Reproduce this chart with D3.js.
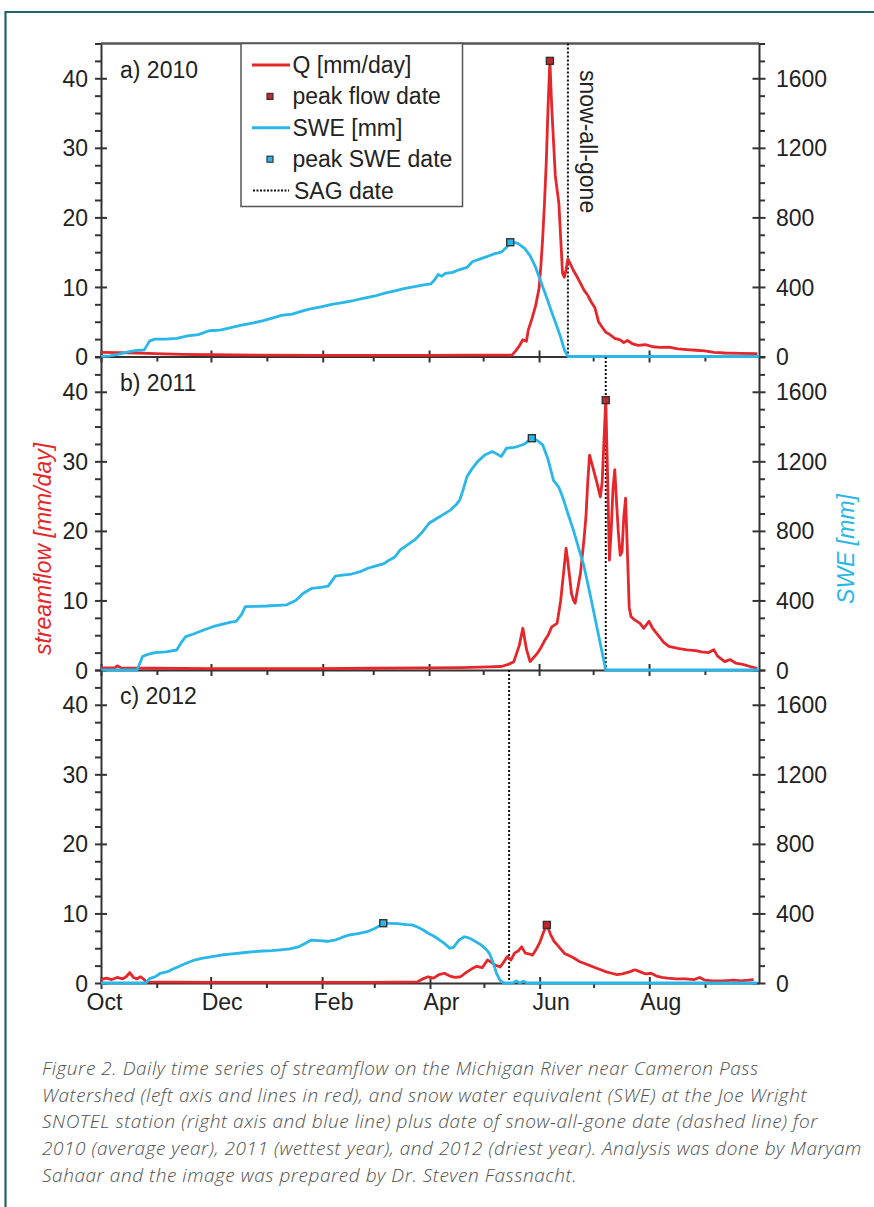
<!DOCTYPE html>
<html>
<head>
<meta charset="utf-8">
<script src="https://cdn.jsdelivr.net/npm/d3@7"></script>
<style>
  html, body { margin: 0; padding: 0; background: #fff; }
  svg { display: block; }
  .tick text { font-family: "Liberation Sans", Arial, sans-serif; font-size: 23px; fill: #222; }
  .lbl { font-family: "Liberation Sans", Arial, sans-serif; font-size: 23px; fill: #222; }
  .caption { font-family: "Open Sans", Lato, sans-serif; font-style: italic; font-weight: 300; font-size: 19px; letter-spacing: 0.55px; fill: #4e4e4e; }
</style>
</head>
<body>
<svg id="chart" width="874" height="1207"></svg>
<script>
// Daily streamflow Q [mm/day] and SWE [mm], as [day of water year (0 = Oct 1), value]
const q2010 = [[0,0.6],[10,0.55],[20,0.5],[30,0.4],[45,0.3],[60,0.25],[90,0.2],[120,0.15],[150,0.15],[180,0.15],[205,0.2],[228,0.2],[230,0.8],[232,1.5],[234,2.4],[236,2.2],[237,3.8],[239,5.4],[241,7.2],[243,9.8],[244,13],[245,17],[246,22],[247,28],[248,36],[249,42.5],[250,36],[251,31],[252,26],[253,24],[254,22],[255,17],[256,12],[257,11.4],[258,12.5],[259,14],[260,13.5],[262,12.4],[264,11.5],[266,10.5],[268,9.5],[270,8.8],[272,7.8],[274,7.0],[276,5.0],[278,4.2],[280,3.5],[282,3.2],[285,2.6],[288,2.4],[290,2.0],[292,2.3],[295,1.8],[298,1.6],[302,1.7],[306,1.4],[310,1.3],[315,1.35],[320,1.1],[325,1.0],[330,0.9],[335,0.8],[340,0.6],[346,0.5],[355,0.45],[364,0.4]];
const swe2010 = [[0,0],[5,4],[10,14],[15,26],[19,34],[24,38],[27,90],[30,100],[36,100],[42,104],[48,118],[54,126],[60,148],[66,152],[72,166],[78,180],[84,192],[90,206],[96,224],[100,236],[106,244],[112,262],[117,276],[122,286],[128,300],[134,310],[140,322],[146,336],[152,348],[158,366],[163,378],[168,390],[174,402],[179,412],[183,418],[185,440],[187,472],[189,462],[191,478],[195,484],[199,500],[203,512],[206,545],[210,560],[214,574],[218,590],[222,600],[225,628],[227,657],[231,652],[235,622],[238,580],[241,515],[244,430],[247,345],[250,255],[253,170],[255,110],[257,40],[259,0],[365,0]];

const q2011 = [[0,0.3],[8,0.35],[9,0.6],[11,0.3],[30,0.25],[60,0.2],[90,0.2],[120,0.2],[150,0.25],[180,0.3],[200,0.35],[215,0.45],[222,0.5],[226,0.8],[229,1.2],[232,3.5],[234,6.0],[236,3.0],[238,1.2],[240,1.8],[242,2.4],[244,3.2],[246,4.2],[248,5.0],[250,6.2],[253,6.7],[255,10],[257,15],[258,17.5],[259,15.5],[261,11],[262,10.1],[263,9.6],[265,12.5],[266,14],[268,19],[269,22],[270,27],[271,30.9],[273,29],[275,27],[277,24.9],[278,27],[279,33],[280,38.8],[281,28],[282,15.8],[283,20],[284,26],[285,28.8],[286,24],[287,19.7],[288,16.5],[289,17],[290,22],[291,24.7],[292,17],[293,9],[294,7.7],[296,7.2],[299,6.7],[301,6.0],[304,7.0],[306,6.0],[309,5.0],[312,4.0],[315,3.4],[320,3.1],[325,2.9],[330,2.8],[333,2.6],[337,2.5],[340,2.9],[342,2.0],[344,1.6],[346,1.2],[349,1.5],[352,1.0],[356,0.8],[360,0.5],[364,0.25]];
const swe2011 = [[0,0],[10,0],[20,0],[22,50],[23,78],[26,90],[30,100],[36,104],[42,115],[44,150],[47,192],[52,210],[57,230],[62,249],[67,262],[72,275],[75,280],[78,320],[80,364],[86,366],[92,368],[98,372],[103,375],[108,400],[112,440],[117,470],[122,475],[126,482],[130,540],[134,545],[139,552],[144,566],[148,585],[153,600],[157,612],[160,633],[163,650],[166,691],[170,720],[174,748],[178,790],[182,844],[186,870],[190,895],[194,921],[197,950],[199,978],[201,1040],[203,1112],[206,1160],[209,1200],[213,1237],[217,1256],[220,1240],[222,1228],[225,1276],[229,1280],[231,1285],[235,1300],[239,1333],[242,1320],[245,1295],[248,1210],[251,1090],[254,1050],[256,997],[259,900],[262,806],[265,700],[268,594],[271,450],[274,300],[277,150],[280,0],[365,0]];

const q2012 = [[0,0.5],[3,0.7],[6,0.5],[9,0.8],[12,0.6],[14,0.9],[16,1.5],[18,0.8],[20,0.6],[22,0.9],[24,0.5],[25,0.15],[60,0.1],[100,0.1],[150,0.1],[176,0.15],[179,0.6],[182,0.9],[185,0.7],[188,1.2],[191,1.4],[194,1.0],[197,0.8],[200,0.9],[203,1.5],[206,2.0],[209,2.4],[212,2.2],[215,3.3],[217,3.0],[219,2.6],[222,2.3],[224,3.0],[226,3.8],[228,3.3],[230,4.3],[232,4.6],[234,5.2],[236,4.3],[238,4.2],[240,4.0],[242,4.8],[244,5.8],[246,7.2],[248,8.35],[250,7.0],[252,6.0],[254,5.4],[256,4.8],[258,4.2],[260,4.0],[263,3.6],[266,3.1],[269,2.8],[272,2.5],[275,2.2],[278,1.9],[281,1.6],[284,1.4],[287,1.2],[290,1.3],[294,1.6],[297,1.9],[300,1.6],[303,1.3],[306,1.4],[309,1.0],[312,0.8],[315,0.7],[320,0.6],[325,0.6],[330,0.5],[333,0.8],[336,0.4],[340,0.3],[346,0.3],[352,0.4],[356,0.3],[360,0.4],[363,0.5]];
const swe2012 = [[0,0],[10,0],[20,0],[25,0],[27,25],[30,35],[33,56],[37,65],[40,80],[43,94],[47,112],[52,132],[56,142],[61,150],[67,161],[73,168],[79,174],[85,180],[90,184],[95,186],[100,191],[105,196],[110,208],[114,230],[117,247],[121,244],[126,240],[130,246],[134,262],[138,276],[143,284],[148,295],[152,312],[155,330],[157,344],[160,343],[165,342],[170,336],[173,334],[176,322],[179,306],[182,286],[185,270],[188,250],[191,228],[194,200],[196,205],[199,245],[202,266],[205,258],[208,240],[211,222],[214,196],[216,171],[218,120],[220,56],[222,15],[224,0],[229,0],[231,12],[233,0],[235,10],[237,0],[365,0]];

// Snow-all-gone (SAG) day of water year per panel
const sagDays = [259, 280, 227];
const panelLabels = ["a) 2010", "b) 2011", "c) 2012"];
const waterYears = [2010, 2011, 2012];
const flowSeries = [q2010, q2011, q2012];
const sweSeries = [swe2010, swe2011, swe2012];

const qMajor = [0, 10, 20, 30, 40];
const sweMajor = [0, 400, 800, 1200, 1600];
const legendItems = ["Q [mm/day]", "peak flow date", "SWE [mm]", "peak SWE date", "SAG date"];

const captionLines = [
  "Figure 2. Daily time series of streamflow on the Michigan River near Cameron Pass",
  "Watershed (left axis and lines in red), and snow water equivalent (SWE) at the Joe Wright",
  "SNOTEL station (right axis and blue line) plus date of snow-all-gone date (dashed line) for",
  "2010 (average year), 2011 (wettest year), and 2012 (driest year). Analysis was done by Maryam",
  "Sahaar and the image was prepared by Dr. Steven Fassnacht."
];

const RED = "#e5262a", BLUE = "#29b6e9", AXIS = "#333";
const left = 101, right = 759;
const panelTops = [43.5, 357, 670], panelH = 313;

const svg = d3.select("#chart");

// page frame
svg.append("path").attr("d", "M5.5,1207 V12 H874")
  .attr("fill", "none").attr("stroke", "#1e6665").attr("stroke-width", 2.2);

panelTops.forEach((top, i) => {
  const wy = waterYears[i];
  const start = new Date(wy - 1, 9, 1), end = new Date(wy, 9, 1);
  const x = d3.scaleTime().domain([start, end]).range([left, right]);
  const yQ = d3.scaleLinear().domain([0, 45]).range([top + panelH, top]);
  const yS = d3.scaleLinear().domain([0, 1800]).range([top + panelH, top]);
  const day = d => d3.timeDay.offset(start, d);
  const g = svg.append("g");

  // minor ticks (outward)
  const qMinor = d3.range(0, 45.01, 2.5).filter(v => v % 10 !== 0);
  const sMinor = d3.range(0, 1800.1, 100).filter(v => v % 400 !== 0);
  const months = d3.timeMonth.range(start, end);
  const xMinor = months.filter((m, k) => k % 2 === 1);
  const xMajor = months.filter((m, k) => k % 2 === 0);

  g.append("g").attr("transform", `translate(${left},0)`)
    .call(d3.axisLeft(yQ).tickValues(qMinor).tickSize(6).tickSizeOuter(0).tickFormat(""))
    .call(a => a.select(".domain").remove());
  g.append("g").attr("transform", `translate(${right},0)`)
    .call(d3.axisRight(yS).tickValues(sMinor).tickSize(6).tickSizeOuter(0).tickFormat(""))
    .call(a => a.select(".domain").remove());
  g.append("g").attr("transform", `translate(0,${top + panelH})`)
    .call(d3.axisBottom(x).tickValues(xMinor).tickSize(5).tickSizeOuter(0).tickFormat(""))
    .call(a => a.select(".domain").remove());

  // major ticks crossing the axis lines
  const ax = g.append("g").attr("transform", `translate(0,${top + panelH})`)
    .call(d3.axisBottom(x).tickValues(xMajor).tickSizeOuter(0)
      .tickFormat(i === 2 ? d3.timeFormat("%b") : ""));
  ax.selectAll(".tick line").attr("y1", -6).attr("y2", 6);
  ax.selectAll(".tick text").attr("y", 27).attr("dy", 0)
    .attr("dx", d => d.getMonth() === 9 ? 3 : 11);

  const al = g.append("g").attr("transform", `translate(${left},0)`)
    .call(d3.axisLeft(yQ).tickValues(qMajor).tickSizeOuter(0).tickFormat(d3.format("d")));
  al.selectAll(".tick line").attr("x1", 6).attr("x2", -6);
  al.selectAll(".tick text").attr("x", -13).attr("dy", "0.35em");

  const ar = g.append("g").attr("transform", `translate(${right},0)`)
    .call(d3.axisRight(yS).tickValues(sweMajor).tickSizeOuter(0).tickFormat(d3.format("d")));
  ar.selectAll(".tick line").attr("x1", -6.5).attr("x2", 6.5);
  ar.selectAll(".tick text").attr("x", 17).attr("dy", "0.35em");

  svg.selectAll(".domain, .tick line").attr("stroke", AXIS).attr("stroke-width", 2);

  if (i === 0) {
    g.append("line").attr("x1", left).attr("x2", right).attr("y1", top).attr("y2", top)
      .attr("stroke", "#555").attr("stroke-width", 2.5);
  }

  // SAG date
  g.append("line")
    .attr("x1", x(day(sagDays[i]))).attr("x2", x(day(sagDays[i])))
    .attr("y1", top).attr("y2", top + panelH)
    .attr("stroke", "#111").attr("stroke-width", 2).attr("stroke-dasharray", "2,2");

  // series
  const lineQ = d3.line().x(d => x(day(d[0]))).y(d => yQ(d[1]));
  const lineS = d3.line().x(d => x(day(d[0]))).y(d => yS(d[1]));
  g.append("path").datum(flowSeries[i]).attr("d", lineQ)
    .attr("fill", "none").attr("stroke", RED).attr("stroke-width", 2.8).attr("stroke-linejoin", "round");
  g.append("path").datum(sweSeries[i]).attr("d", lineS)
    .attr("fill", "none").attr("stroke", BLUE).attr("stroke-width", 2.8).attr("stroke-linejoin", "round");

  // peak markers
  const pq = d3.greatest(flowSeries[i], d => d[1]);
  const ps = d3.greatest(sweSeries[i], d => d[1]);
  g.append("rect").attr("x", x(day(pq[0])) - 3.5).attr("y", yQ(pq[1]) - 3.5)
    .attr("width", 7).attr("height", 7).attr("fill", "#c8262b").attr("stroke", "#333").attr("stroke-width", 1.4);
  g.append("rect").attr("x", x(day(ps[0])) - 3.5).attr("y", yS(ps[1]) - 3.5)
    .attr("width", 7).attr("height", 7).attr("fill", BLUE).attr("stroke", "#333").attr("stroke-width", 1.4);

  g.append("text").attr("class", "lbl").attr("x", 120).attr("y", top + 34).text(panelLabels[i]);

  if (i === 0) {
    g.append("text").attr("class", "lbl")
      .attr("transform", `translate(580,70) rotate(90)`).text("snow-all-gone");

    // legend
    const lg = g.append("g");
    lg.append("rect").attr("x", 241).attr("y", top).attr("width", 221.5).attr("height", 163)
      .attr("fill", "#fff").attr("stroke", "#555").attr("stroke-width", 1.5);
    const rowY = k => 65 + k * 31.4;
    legendItems.forEach((t, k) => {
      lg.append("text").attr("class", "lbl").attr("x", k === 4 ? 294 : 292.5)
        .attr("y", rowY(k) + 8).text(t);
    });
    lg.append("line").attr("x1", 252).attr("x2", 290).attr("y1", rowY(0)).attr("y2", rowY(0))
      .attr("stroke", RED).attr("stroke-width", 3);
    lg.append("rect").attr("x", 267).attr("y", rowY(1) - 3).attr("width", 6).attr("height", 6)
      .attr("fill", "#c8262b").attr("stroke", "#333").attr("stroke-width", 1.2);
    lg.append("line").attr("x1", 252).attr("x2", 290).attr("y1", rowY(2)).attr("y2", rowY(2))
      .attr("stroke", BLUE).attr("stroke-width", 3);
    lg.append("rect").attr("x", 267).attr("y", rowY(3) - 3).attr("width", 6).attr("height", 6)
      .attr("fill", BLUE).attr("stroke", "#333").attr("stroke-width", 1.2);
    lg.append("line").attr("x1", 253).attr("x2", 289).attr("y1", rowY(4)).attr("y2", rowY(4))
      .attr("stroke", "#111").attr("stroke-width", 2).attr("stroke-dasharray", "2,1.5");
  }
});

// axis titles
svg.append("text").attr("class", "lbl")
  .attr("transform", "translate(51,549) rotate(-90)").attr("text-anchor", "middle")
  .style("font-style", "italic").style("fill", RED).text("streamflow [mm/day]");
svg.append("text").attr("class", "lbl")
  .attr("transform", "translate(854,549) rotate(-90)").attr("text-anchor", "middle")
  .style("font-style", "italic").style("fill", BLUE).text("SWE [mm]");

// caption
svg.append("g").selectAll("text").data(captionLines).join("text")
  .attr("class", "caption").attr("x", 42).attr("y", (d, k) => 1075 + k * 26.7).text(d => d);
</script>
</body>
</html>
